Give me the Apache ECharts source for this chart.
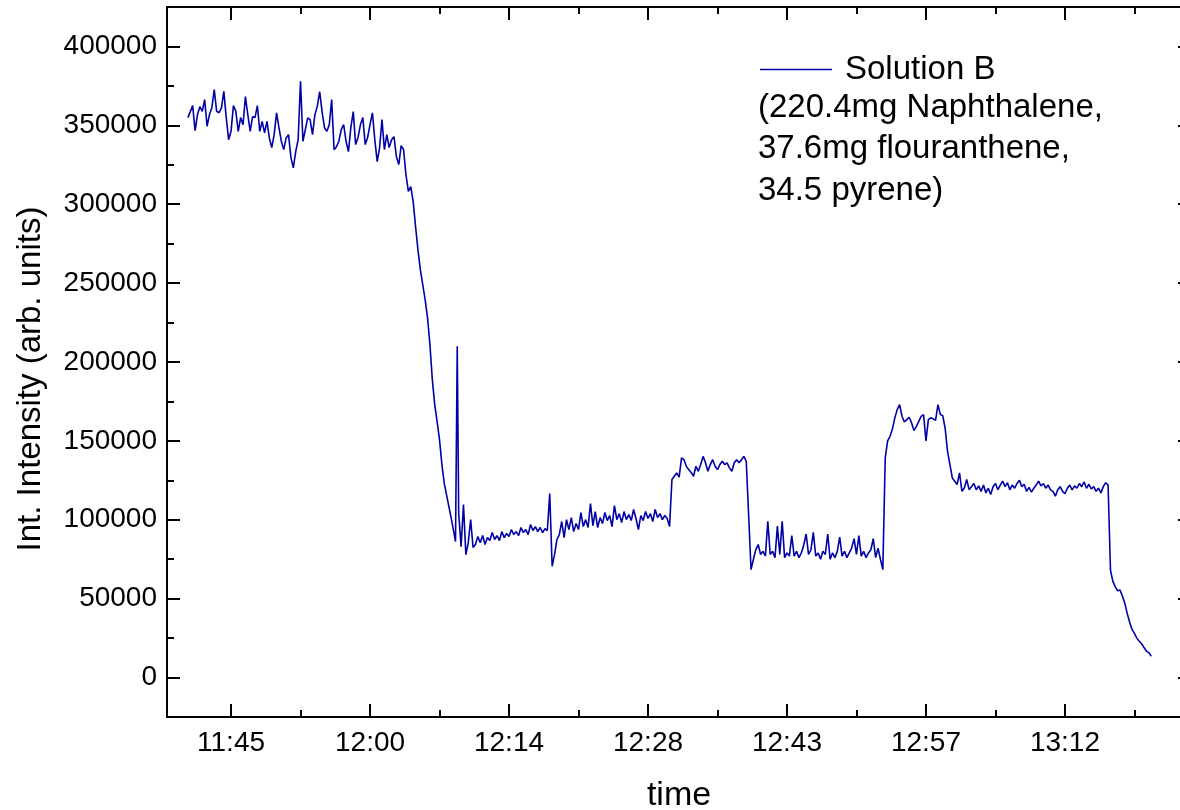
<!DOCTYPE html>
<html>
<head>
<meta charset="utf-8">
<title>Solution B intensity</title>
<script src="https://cdn.jsdelivr.net/npm/echarts@6/dist/echarts.min.js"></script>
<style>
html,body{margin:0;padding:0;background:#fff;}
#chart{width:1180px;height:810px;}
</style>
</head>
<body>
<div id="chart"></div>
<script>
// x values: minutes after 11:00 ; y values: intensity (arb. units)
const seriesName = 'Solution B';
const legendNote = '(220.4mg Naphthalene,\n37.6mg flouranthene,\n34.5 pyrene)';
const xTitle = 'time';
const yTitle = 'Int. Intensity (arb. units)';

const xTickValues = [45, 59.5, 74, 88.5, 103, 117.5, 132];
const xTickLabels = ['11:45', '12:00', '12:14', '12:28', '12:43', '12:57', '13:12'];
const xMinorValues = [52.25, 66.75, 81.25, 95.75, 110.25, 124.75, 139.25];
const yTickValues = [0, 50000, 100000, 150000, 200000, 250000, 300000, 350000, 400000];
const yMinorValues = [25000, 75000, 125000, 175000, 225000, 275000, 325000, 375000];

const baseline = [
[40.5,354900],[40.75,358700],[41,362500],[41.25,346600],[41.5,356800],[41.75,361800],
[42,358900],[42.25,366300],[42.5,349400],[42.75,356800],[43,361200],[43.25,372600],
[43.5,358900],[43.75,358000],[44,361000],[44.25,371500],[44.5,354900],[44.75,340900],
[45,346200],[45.25,362500],[45.5,358900],[45.75,346200],[46,354900],[46.25,350400],
[46.5,368200],[46.75,356800],[47,346200],[47.25,355500],[47.5,354900],[47.75,362500],
[48,346200],[48.25,352500],[48.5,345200],[48.75,352500],[49,342000],[49.25,335900],
[49.5,344100],[49.75,357900],[50,348500],[50.25,339900],[50.5,334600],[50.75,342000],
[51,344100],[51.25,329500],[51.5,323000],[51.75,333300],[52,340900],[52.25,377900],
[52.5,339900],[52.75,347300],[53,354700],[53.25,353600],[53.5,344100],[53.75,356800],
[54,362000],[54.25,371300],[54.5,358700],[54.75,348500],[55,346200],[55.25,350400],
[55.5,366300],[55.75,334600],[56,336500],[56.25,339900],[56.5,347300],[56.75,350400],
[57,339900],[57.25,333300],[57.5,348500],[57.75,358700],[58,337800],[58.25,342300],
[58.5,350400],[58.75,354900],[59,337800],[59.25,342300],[59.5,350400],[59.75,357900],
[60,340900],[60.25,327000],[60.5,335900],[60.75,353600],[61,334600],[61.25,344100],
[61.5,335900],[61.75,340900],[62,342800],[62.25,330300],[62.5,325100],[62.75,337100],
[63,334600]
];

const decline = [
[63.25,318700],[63.5,308200],[63.75,311100],[64,301800],[64.25,286000],[64.5,271200],
[64.75,258500],[65,249000],[65.25,239500],[65.5,228100],[65.75,211000],[66,188800],
[66.25,173000],[66.5,162200],[66.75,150800],[67,135000],[67.25,122900],[67.5,115300],
[67.75,107700],[68,100100],[68.25,91900],[68.42,86200],[68.6,210000],[68.75,104400],
[69,83000],[69.25,109600],[69.5,77900],[69.75,85500],[70,100100],[70.25,82400],[70.5,84300]
];

const plateau1214 = [
[70.75,89400],[71,85500],[71.25,90000],[71.5,84300],[71.75,88700],[72,86800],
[72.25,91900],[72.5,87500],[72.75,90000],[73,86800],[73.25,92500],[73.5,88700],
[73.75,91300],[74,89400],[74.25,93800],[74.5,90600],[74.75,92500],[75,90000],
[75.25,95100],[75.5,91900],[75.75,93800],[76,90600],[76.25,97000],[76.5,93200],
[76.75,95700],[77,92500],[77.25,95100],[77.5,91900],[77.75,94400],[78,93200],
[78.25,116600],[78.5,70500]
];

const plateau1220 = [
[78.75,77900],[79,87500],[79.25,90600],[79.5,98900],[79.75,88700],[80,100100],
[80.25,93800],[80.5,101400],[80.75,92500],[81,97600],[81.25,93800],[81.5,104600],
[81.75,95700],[82,100100],[82.25,95100],[82.5,110300],[82.75,96300],[83,105200],
[83.25,95100],[83.5,101400],[83.75,97600],[84,104600],[84.25,99500],[84.5,102700],
[84.75,95700],[85,109000],[85.25,100100],[85.5,103900],[85.75,98200],[86,105200],
[86.25,100100],[86.5,103300],[86.75,99500],[87,106500],[87.25,100800],[87.5,93800],
[87.75,102700],[88,99500],[88.25,105200],[88.5,100800],[88.75,103900],[89,98900],
[89.25,106500],[89.5,101400],[89.75,103900],[90,100100],[90.25,102700],[90.5,100800],
[90.75,95700]
];

const plateau1231 = [
[91,125500],[91.25,127600],[91.5,129700],[91.75,127000],[92,139200],[92.25,138100],
[92.5,133900],[92.75,131800],[93,130000],[93.25,127600],[93.5,133900],[93.75,130700],
[94,135000],[94.25,140200],[94.5,136100],[94.75,130700],[95,135000],[95.25,138100],
[95.5,133900],[95.75,131800],[96,135000],[96.25,137100],[96.5,135000],[96.75,136100],
[97,132900],[97.25,130700],[97.5,136100],[97.75,138100],[98,136100],[98.25,138100],
[98.5,140200],[98.75,137100]
];

const plateau1240 = [
[99,103000],[99.25,68400],[99.5,75000],[99.75,81100],[100,84300],[100.25,78000],
[100.5,80000],[100.75,77000],[101,99000],[101.25,78000],[101.5,80000],[101.75,76000],
[102,96000],[102.25,78000],[102.5,99000],[102.75,76000],[103,79000],[103.25,77000],
[103.5,90000],[103.75,77000],[104,80000],[104.25,76000],[104.5,79000],[104.75,84000],
[105,91000],[105.25,78000],[105.5,81000],[105.75,92000],[106,77000],[106.25,79000],
[106.5,75000],[106.75,80000],[107,78000],[107.25,91000],[107.5,75000],[107.75,79000],
[108,76000],[108.25,80000],[108.5,89000],[108.75,77000],[109,80000],[109.25,76000],
[109.5,79000],[109.75,82000],[110,88000],[110.25,78000],[110.5,90000],[110.75,77000],
[111,80000],[111.25,76000],[111.5,79000],[111.75,81000],[112,88000],[112.25,76000],
[112.5,82000],[112.75,75000],[113,68400]
];

const plateau1253 = [
[113.25,139200],[113.5,150000],[113.75,152900],[114,157500],[114.25,164600],[114.5,169800],
[114.75,173000],[115,165600],[115.25,162000],[115.5,163500],[115.75,165000],[116,161400],
[116.25,156500],[116.5,159200],[116.75,162400],[117,165600],[117.25,166700],[117.5,150000],
[117.75,163500],[118,164600],[118.25,164000],[118.5,163000],[118.75,173000],[119,166700],
[119.25,166000],[119.5,158000]
];

const plateau1300 = [
[119.75,143400],[120,135000],[120.25,126500],[120.5,124400],[120.75,122300],[121,129700],
[121.25,118100],[121.5,120200],[121.75,125500],[122,119100],[122.25,121000],[122.5,123000],
[122.75,119000],[123,121500],[123.25,118000],[123.5,122000],[123.75,117000],[124,120000],
[124.25,116000],[124.5,121000],[124.75,123000],[125,119000],[125.25,122000],[125.5,124500],
[125.75,121000],[126,123500],[126.25,119000],[126.5,122000],[126.75,120000],[127,123000],
[127.25,125000],[127.5,121000],[127.75,122500],[128,118000],[128.25,120500],[128.5,117500],
[128.75,120000],[129,122000],[129.25,124500],[129.5,121500],[129.75,123000],[130,120000],
[130.25,122000],[130.5,119000],[130.75,118000],[131,115000],[131.25,119000],[131.5,121000],
[131.75,118000],[132,116500],[132.25,120000],[132.5,122000],[132.75,119000],[133,121500],
[133.25,120000],[133.5,123000],[133.75,121000],[134,124000],[134.25,120000],[134.5,122500],
[134.75,119500],[135,121000],[135.25,118000],[135.5,120000],[135.75,117000],[136,121000],
[136.25,123500],[136.5,122000]
];

const decay = [
[136.75,68000],[137,61000],[137.25,57500],[137.5,55000],[137.75,55500],[138,51500],
[138.25,47000],[138.5,40500],[138.75,35000],[139,30500],[139.25,28000],[139.5,25000],
[139.75,23000],[140,21400],[140.25,19000],[140.5,16800],[140.75,15800],[141,13500]
];

const FONT = '"Liberation Sans", Arial, Helvetica, sans-serif';
const LINE_COLOR = '#0000a8';
const X_MIN = 38.32, X_MAX = 145.15;
const Y_MIN = -25000, Y_MAX = 425000;

const allData = [].concat(baseline, decline, plateau1214, plateau1220, plateau1231,
  plateau1240, plateau1253, plateau1300, decay);

function xAxisDef(position, ticks, len, showLine, showLabel, withName) {
  const ax = {
    type: 'value', position: position, min: X_MIN, max: X_MAX, gridIndex: 0,
    axisLine: { show: showLine, onZero: false, lineStyle: { color: '#000', width: 2 } },
    axisTick: { show: true, inside: true, length: len, customValues: ticks,
      lineStyle: { color: '#000', width: 2 } },
    axisLabel: { show: showLabel },
    splitLine: { show: false }, minorTick: { show: false }
  };
  if (showLabel) {
    ax.axisLabel = {
      show: true, customValues: xTickValues, margin: 12,
      color: '#000', fontSize: 28, fontFamily: FONT,
      formatter: function (v) {
        let best = 0;
        for (let i = 1; i < xTickValues.length; i++) {
          if (Math.abs(xTickValues[i] - v) < Math.abs(xTickValues[best] - v)) best = i;
        }
        return xTickLabels[best];
      }
    };
  }
  if (withName) {
    ax.name = xTitle;
    ax.nameLocation = 'middle';
    ax.nameGap = 62;
    ax.nameTextStyle = { color: '#000', fontSize: 34, fontFamily: FONT };
  }
  return ax;
}

function yAxisDef(position, ticks, len, showLine, showLabel) {
  const ax = {
    type: 'value', position: position, min: Y_MIN, max: Y_MAX, gridIndex: 0,
    axisLine: { show: showLine, onZero: false, lineStyle: { color: '#000', width: 2 } },
    axisTick: { show: true, inside: true, length: len, customValues: ticks,
      lineStyle: { color: '#000', width: 2 } },
    axisLabel: { show: showLabel },
    splitLine: { show: false }, minorTick: { show: false }
  };
  if (showLabel) {
    ax.axisLabel = {
      show: true, customValues: yTickValues, margin: 10,
      color: '#000', fontSize: 28, fontFamily: FONT,
      formatter: function (v) { return String(Math.round(v)); }
    };
  }
  return ax;
}

const chart = echarts.init(document.getElementById('chart'), null, { renderer: 'canvas' });
chart.setOption({
  animation: false,
  backgroundColor: '#ffffff',
  textStyle: { fontFamily: FONT },
  grid: { left: 167, top: 7, width: 1024, height: 710, containLabel: false, outerBoundsMode: 'none' },
  xAxis: [
    xAxisDef('bottom', xTickValues, 13, true, true, true),
    xAxisDef('bottom', xMinorValues, 7, false, false, false),
    xAxisDef('top', xTickValues, 13, true, false, false),
    xAxisDef('top', xMinorValues, 7, false, false, false)
  ],
  yAxis: [
    yAxisDef('left', yTickValues, 13, true, true),
    yAxisDef('left', yMinorValues, 7, false, false),
    yAxisDef('right', yTickValues, 13, true, false),
    yAxisDef('right', yMinorValues, 7, false, false)
  ],
  legend: {
    data: [{ name: seriesName, icon: 'rect' }], left: 760, top: 53, padding: 0,
    itemWidth: 72, itemHeight: 1.5, itemGap: 0,
    textStyle: { color: '#000', fontSize: 33, fontFamily: FONT, lineHeight: 33, padding: [0, 0, 0, 8] }
  },
  graphic: [{
    type: 'text', left: 758, top: 87, silent: true,
    style: { text: legendNote, fill: '#000', fontSize: 33, fontFamily: FONT, lineHeight: 41.5 }
  }, {
    type: 'text', x: 31, y: 379, rotation: Math.PI / 2, silent: true,
    style: { text: yTitle, fill: '#000', fontSize: 33, fontFamily: FONT,
      align: 'center', verticalAlign: 'middle' }
  }],
  series: [{
    name: seriesName, type: 'line', xAxisIndex: 0, yAxisIndex: 0,
    data: allData, showSymbol: false, symbol: 'none', sampling: false,
    lineStyle: { color: LINE_COLOR, width: 1.6 }, itemStyle: { color: LINE_COLOR },
    emphasis: { disabled: true }
  }]
});
</script>
</body>
</html>
